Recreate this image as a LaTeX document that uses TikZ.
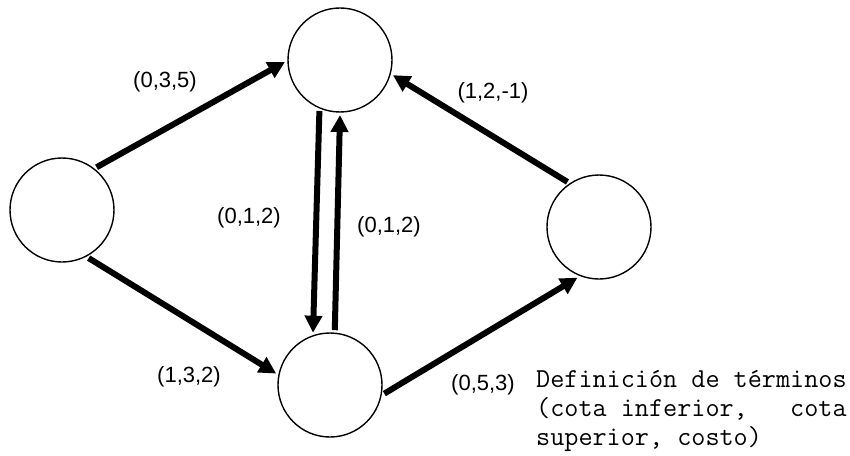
\documentclass[tikz,border=0pt]{standalone}
\usepackage{fontspec}
\setsansfont{Liberation Sans}
\usepackage{tikz}
\usetikzlibrary{arrows.meta, positioning}

\begin{document}
\begin{tikzpicture}[node distance=1.5cm, on grid]
\tikzstyle{vertex} = [circle, draw, line width=0.7pt, minimum size=52pt, inner sep=0pt, outer sep=1.5pt]
\tikzstyle{line} = [draw, line width=3pt, -{Triangle[length=8.5pt, width=8.5pt]}]
\tikzstyle{cost} = [font=\sffamily\fontsize{11}{12}\selectfont, inner sep=0pt]

\useasboundingbox (-31pt,-122.5pt) rectangle (394pt,105pt);

\node [vertex] (left) {};
\node [vertex, above right=75pt and 139pt of left] (top) {};
\node [vertex, below right=87.5pt and 134pt of left] (bottom) {};
\node [vertex, below right=8.5pt and 268.5pt of left] (right) {};

\path [line] (left.51) -- (top.182);
\path [line] (left.-61) -- (bottom.168);
\path [line] (top.-112) -- (bottom.108);
\path [line] (bottom.85) -- (top.-90);
\path [line] (bottom.-9) -- (right.-113);
\path [line] (right.125) -- (top.-16);

\node [cost, above right=64pt and 51.5pt of left] (c035) {(0,3,5)};
\node [cost, above right=58.5pt and 215.5pt of left] (c121) {(1,2,-1)};
\node [cost, below right=4pt and 93.5pt of left] (c012a) {(0,1,2)};
\node [cost, below right=8.5pt and 163.5pt of left] (c012b) {(0,1,2)};
\node [cost, below right=83.5pt and 63.5pt of left] (c132) {(1,3,2)};
\node [cost, below right=87.5pt and 210.5pt of left] (c053) {(0,5,3)};

\node [align=left, inner sep=0pt, font=\ttfamily\fontsize{13.7}{14.4}\selectfont,
       below right=100.5pt and 314.7pt of left] (legend)
  {Definición de términos\\(cota inferior,~~~cota\\superior, costo)};

\end{tikzpicture}
\end{document}
